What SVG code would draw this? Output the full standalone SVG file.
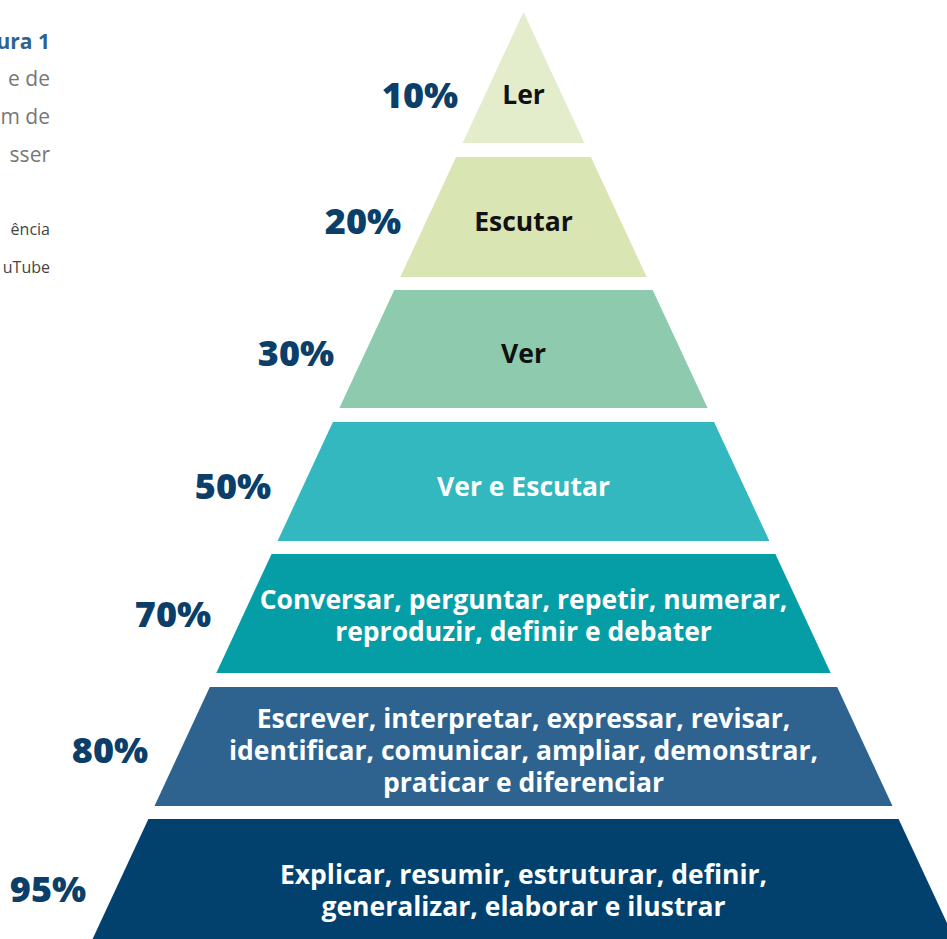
<svg xmlns="http://www.w3.org/2000/svg" width="947" height="939" viewBox="0 0 947 939">
<style>
.pct{font-family:"Open Sans","Liberation Sans",sans-serif;font-weight:800;font-size:36px;fill:#0b3f6a;text-anchor:middle}
.lbl{font-family:"Open Sans","Liberation Sans",sans-serif;font-weight:700;font-size:26.5px;text-anchor:middle}
.dk{fill:#111111}
.wt{fill:#ffffff}
.side{font-family:"Open Sans","Liberation Sans",sans-serif;text-anchor:end}
</style>
<rect width="947" height="939" fill="#ffffff"/>
<g id="caption">
<text class="side" x="50" y="49" font-size="21" font-weight="700" fill="#2e6390">ura 1</text>
<text class="side" x="50" y="86" font-size="21" fill="#777777">e de</text>
<text class="side" x="50" y="124" font-size="21" fill="#777777">m de</text>
<text class="side" x="50" y="162" font-size="21" fill="#777777">sser</text>
<text class="side" x="50" y="235" font-size="16" fill="#444444">ência</text>
<text class="side" x="50" y="273" font-size="16" fill="#444444">uTube</text>
</g>
<g id="tier1">
<polygon points="523.5,12 584.4,143 462.6,143" fill="#e3edcb"/>
<text class="lbl dk" x="523.5" y="104">Ler</text>
<text class="pct" x="420" y="108">10%</text>
</g>
<g id="tier2">
<polygon points="456.1,157 590.9,157 646.7,277 400.3,277" fill="#d9e5b3"/>
<text class="lbl dk" x="523.5" y="231">Escutar</text>
<text class="pct" x="363" y="234">20%</text>
</g>
<g id="tier3">
<polygon points="394.3,290 652.7,290 707.6,408 339.4,408" fill="#8ecaae"/>
<text class="lbl dk" x="523.5" y="363">Ver</text>
<text class="pct" x="296" y="366">30%</text>
</g>
<g id="tier4">
<polygon points="332.9,422 714.1,422 769.4,541 277.6,541" fill="#33b8c0"/>
<text class="lbl wt" x="523.5" y="496">Ver e Escutar</text>
<text class="pct" x="233" y="499">50%</text>
</g>
<g id="tier5">
<polygon points="271.6,554 775.4,554 830.7,673 216.3,673" fill="#069ea6"/>
<text class="lbl wt" x="523.5" y="609">Conversar, perguntar, repetir, numerar,</text>
<text class="lbl wt" x="523.5" y="641">reproduzir, definir e debater</text>
<text class="pct" x="173" y="627">70%</text>
</g>
<g id="tier6">
<polygon points="209.8,687 837.2,687 892.5,806 154.5,806" fill="#2e6390"/>
<text class="lbl wt" x="523.5" y="728">Escrever, interpretar, expressar, revisar,</text>
<text class="lbl wt" x="523.5" y="760">identificar, comunicar, ampliar, demonstrar,</text>
<text class="lbl wt" x="523.5" y="792">praticar e diferenciar</text>
<text class="pct" x="110" y="763">80%</text>
</g>
<g id="tier7">
<polygon points="148.4,819 898.6,819 954.4,939 92.6,939" fill="#02416e"/>
<text class="lbl wt" x="523.5" y="884">Explicar, resumir, estruturar, definir,</text>
<text class="lbl wt" x="523.5" y="916">generalizar, elaborar e ilustrar</text>
<text class="pct" x="48" y="902">95%</text>
</g>
<g id="connectors"/>
</svg>
